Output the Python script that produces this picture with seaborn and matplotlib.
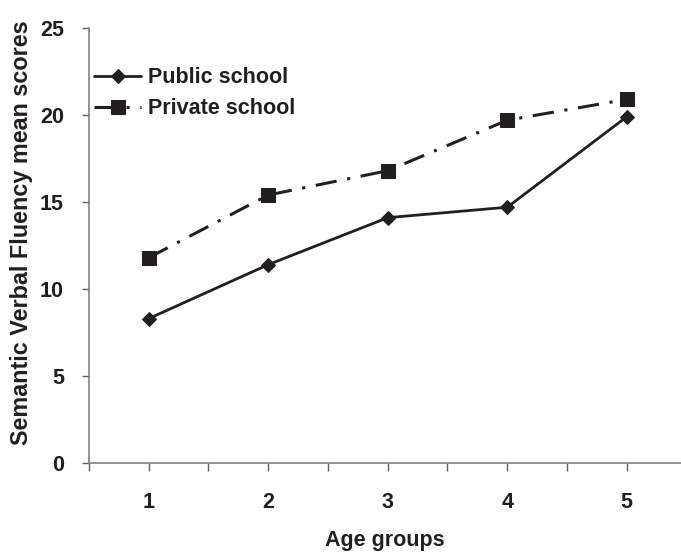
import matplotlib
matplotlib.use("Agg")
import matplotlib.pyplot as plt
import seaborn as sns
import pandas as pd
from matplotlib.ticker import FixedLocator

age_groups = [1, 2, 3, 4, 5]
public_school = [8.3, 11.4, 14.1, 14.7, 19.9]
private_school = [11.8, 15.4, 16.8, 19.7, 20.9]
y_ticks = [0, 5, 10, 15, 20, 25]

sns.set_theme(style="white")
plt.rcParams['font.family'] = ['Liberation Sans', 'DejaVu Sans']
plt.rcParams['font.weight'] = 'bold'

df_pub = pd.DataFrame({"age": age_groups, "score": public_school})
df_priv = pd.DataFrame({"age": age_groups, "score": private_school})

fig = plt.figure(figsize=(6.81, 5.56), dpi=100)
ax = fig.add_axes([89/681, 1-463/556, 1-89/681, (463-28)/556])

ink = "#231f20"
sns.lineplot(data=df_pub, x="age", y="score", ax=ax, color=ink, lw=2.0,
             marker="D", markersize=7.5, markeredgecolor=ink, label="Public school")
sns.lineplot(data=df_priv, x="age", y="score", ax=ax, color=ink, lw=2.2,
             marker="s", markersize=10.5, markeredgecolor=ink, label="Private school",
             dashes=False)
ax.lines[-1].set_dashes([7, 3.5, 1, 3.5])

ax.set_xlim(0.5, 5.454)
ax.set_ylim(0, 25)
ax.set_xticks(age_groups)
ax.set_xticklabels([str(a) for a in age_groups])
ax.xaxis.set_minor_locator(FixedLocator([0.5, 1.5, 2.5, 3.5, 4.5, 5.5]))
ax.set_yticks(y_ticks)
ax.set_yticklabels([str(t) for t in y_ticks])

for s in ["top", "right"]:
    ax.spines[s].set_visible(False)
for s in ["left", "bottom"]:
    ax.spines[s].set_color("#808080")
    ax.spines[s].set_linewidth(1.2)

fs = 15.5
ax.tick_params(axis="x", which="both", direction="out", length=6, width=1,
               color="#606060", bottom=True)
ax.tick_params(axis="x", which="major", labelsize=fs, pad=15, labelcolor=ink)
ax.tick_params(axis="y", which="major", direction="out", length=5, width=1,
               color="#606060", left=True, labelsize=fs, pad=13, labelcolor=ink)

ax.set_xlabel("Age groups", fontsize=fs, fontweight="bold", color=ink, labelpad=12)
ax.set_ylabel("Semantic Verbal Fluency mean scores", fontsize=16.8,
              fontweight="bold", color=ink)
ax.yaxis.set_label_coords(-0.094, 0.53)

leg = ax.legend(loc="center left", bbox_to_anchor=(-0.017, 0.85), frameon=False,
                fontsize=fs, handlelength=2.2, handletextpad=0.3,
                labelspacing=0.45, borderaxespad=0.3)
for t in leg.get_texts():
    t.set_color(ink)
    t.set_fontweight("bold")

fig.savefig("out.png", dpi=100)
